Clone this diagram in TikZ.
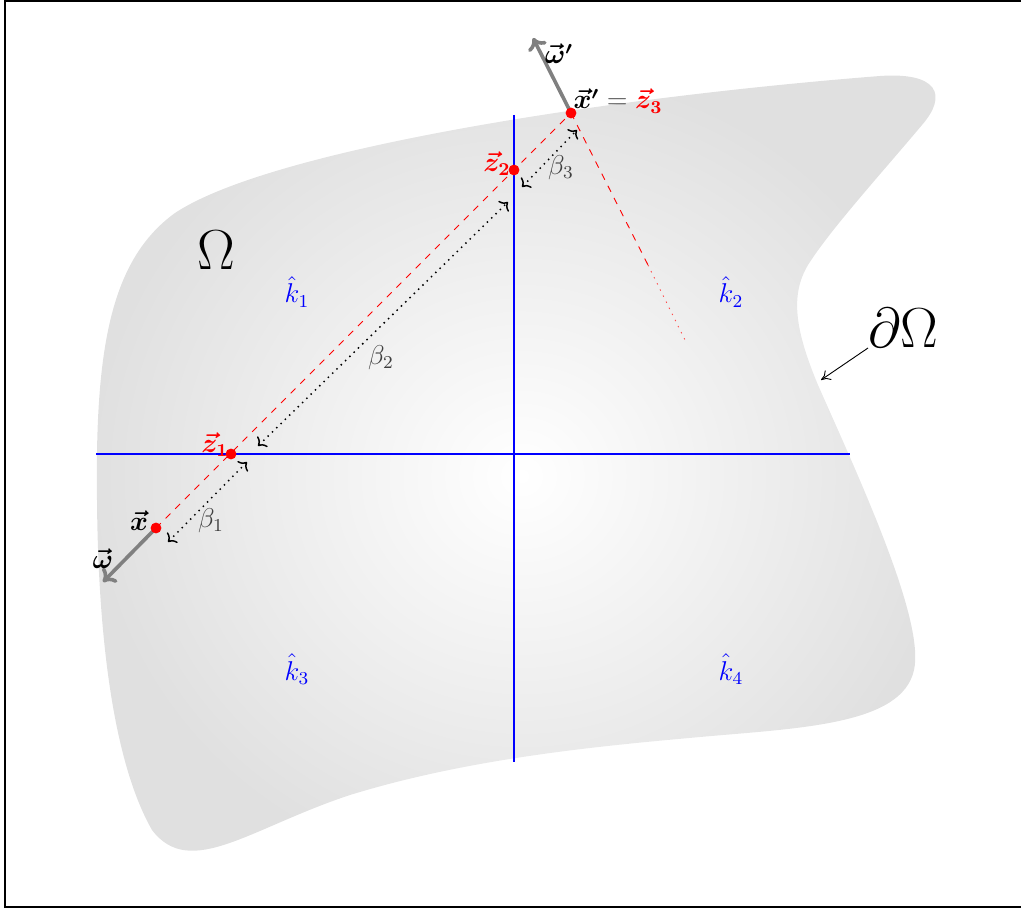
\documentclass[tikz,border=0pt]{standalone}
\usepackage{bm}
\usetikzlibrary{arrows.meta}
\begin{document}
\begin{tikzpicture}[x=0.0155cm,y=-0.0155cm,
  every node/.style={font=\large},
  axisline/.style={blue,line width=0.9pt},
  quadlabel/.style={text=blue},
  reddot/.style={circle,fill=red,inner sep=0pt,minimum size=4.8pt},
  raypath/.style={red,dashed,line width=0.4pt},
  dirarrow/.style={gray,line width=1.6pt,-{To[length=5pt,width=9pt]}},
  betaarrow/.style={black,dotted,line width=0.65pt,{To[length=3pt,width=6.5pt]}-{To[length=3pt,width=6.5pt]}},
  betalabel/.style={text=black!75},
  ptlabel/.style={inner sep=1pt}]
\useasboundingbox (0,0) rectangle (1021,910);
\draw[line width=1pt] (5,1) rectangle (1040,907);
% domain
\shade[inner color=white,outer color=gray!24]
  (97,500) .. controls (95,350) and (110,260) .. (175,213)
  .. controls (270,150) and (600,98) .. (880,76)
  .. controls (938,72) and (948,95) .. (922,125)
  .. controls (880,175) and (830,230) .. (808,265)
  .. controls (790,295) and (795,330) .. (818,385)
  .. controls (860,480) and (925,620) .. (914,670)
  .. controls (902,725) and (800,728) .. (700,737)
  .. controls (600,746) and (470,758) .. (350,795)
  .. controls (250,828) and (190,880) .. (152,830)
  .. controls (112,760) and (98,630) .. (97,500) -- cycle;
% axes
\coordinate (vt) at (514,115); \coordinate (vb) at (514,762);
\coordinate (hl) at (96,454); \coordinate (hr) at (850,454);
\draw[axisline] (vt) -- (vb);
\draw[axisline] (hl) -- (hr);
\node[quadlabel] (k1) at (297,292) {$\hat{k}_1$};
\node[quadlabel] (k2) at (731,292) {$\hat{k}_2$};
\node[quadlabel] (k3) at (297,669) {$\hat{k}_3$};
\node[quadlabel] (k4) at (731,669) {$\hat{k}_4$};
\node[font=\Huge] (Om) at (216,250) {$\Omega$};
\node[font=\Huge] (dOm) at (903,328) {$\partial\Omega$};
\coordinate (dOmS) at (868,348); \coordinate (dOmE) at (821,380);
\draw[-{To[length=4pt,width=5pt]},line width=0.4pt] (dOmS) -- (dOmE);
% points
\coordinate (x) at (156,528);
\coordinate (z1) at (231,454);
\coordinate (z2) at (514,170);
\coordinate (z3) at (571,113);
\coordinate (refl) at (648,265);
\coordinate (reflend) at (685,340);
\coordinate (wend) at (103,582);
\coordinate (wpend) at (533,38);
\draw[raypath] (x) -- (z3);
\draw[raypath] (z3) -- (refl);
\draw[red!70,line width=0.4pt,dash pattern=on 0.6pt off 2.4pt] (refl) -- (reflend);
\draw[dirarrow] (x) -- (wend);
\draw[dirarrow] (z3) -- (wpend);
% beta arrows
\coordinate (b1s) at (168,542); \coordinate (b1e) at (247,462);
\coordinate (b2s) at (258,446); \coordinate (b2e) at (508,202);
\coordinate (b3s) at (522,187); \coordinate (b3e) at (577,130);
\draw[betaarrow] (b1s) -- (b1e);
\draw[betaarrow] (b2s) -- (b2e);
\draw[betaarrow] (b3s) -- (b3e);
\node[betalabel] (be1) at (211,521) {$\beta_1$};
\node[betalabel] (be2) at (381,358) {$\beta_2$};
\node[betalabel] (be3) at (561,168) {$\beta_3$};
% dots
\node[reddot] (xd) at (x) {};
\node[reddot] (z1d) at (z1) {};
\node[reddot] (z2d) at (z2) {};
\node[reddot] (z3d) at (z3) {};
% labels
\node[ptlabel] (xl) at (139,521) {$\bm{\vec{x}}$};
\node[ptlabel] (wl) at (103,559) {$\bm{\vec{\omega}}$};
\node[ptlabel,text=red] (z1l) at (215,445) {$\bm{\vec{z}_1}$};
\node[ptlabel,text=red] (z2l) at (497,164) {$\bm{\vec{z}_2}$};
\node[ptlabel,anchor=west] (z3l) at (571,101) {$\bm{\vec{x}'} \mathrel{\textcolor{black!70}{=}} \textcolor{red}{\bm{\vec{z}_3}}$};
\node[ptlabel] (wpl) at (559,54) {$\bm{\vec{\omega}'}$};
\end{tikzpicture}
\end{document}
